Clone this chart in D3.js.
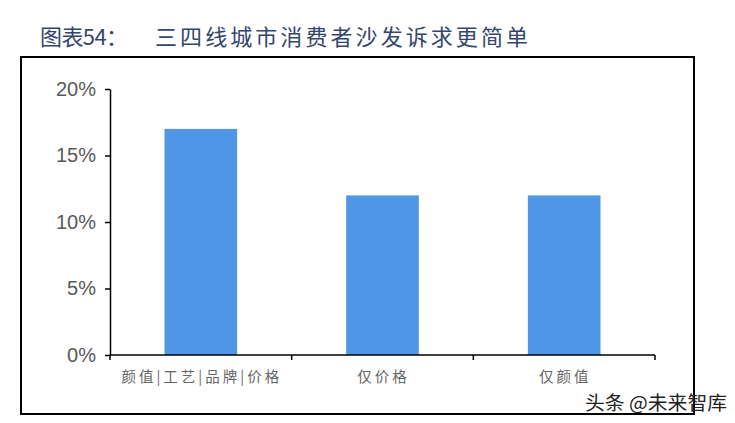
<!DOCTYPE html>
<html><head><meta charset="utf-8">
<script src="https://cdn.jsdelivr.net/npm/d3@7"></script>
<style>body{margin:0;background:#fff}svg{display:block}</style>
</head><body>
<svg id="c" width="735" height="423"></svg>
<script>
const categories = ["颜值|工艺|品牌|价格", "仅价格", "仅颜值"];
const values = [0.17, 0.12, 0.12];
const yTicks = [0, 0.05, 0.10, 0.15, 0.20];
const titleLabel = "图表54：";
const titleText = "三四线城市消费者沙发诉求更简单";
const watermark = "头条 @未来智库";

const svg = d3.select("#c");
svg.append("rect").attr("x",21).attr("y",57).attr("width",673).attr("height",357)
  .attr("fill","none").attr("stroke","#000").attr("stroke-width",2);

svg.append("text").attr("x",40).attr("y",45).text(titleLabel)
  .attr("font-family","'Noto Sans CJK SC'").attr("font-size",22)
  .attr("fill","#34466e").attr("textLength",88).attr("lengthAdjust","spacing");
svg.append("text").attr("x",155).attr("y",45).text(titleText)
  .attr("font-family","'Noto Sans CJK SC'").attr("font-size",22)
  .attr("fill","#34466e").attr("textLength",373).attr("lengthAdjust","spacing");

const x = d3.scaleBand().domain(categories).range([110,655]).paddingInner(0.6).paddingOuter(0.3);
const y = d3.scaleLinear().domain([0,0.2]).range([355,89]);

svg.selectAll("rect.bar").data(values).join("rect").attr("class","bar")
  .attr("x",(d,i)=>x(categories[i])).attr("y",d=>y(d))
  .attr("width",x.bandwidth()).attr("height",d=>y(0)-y(d)).attr("fill","#5096e6");

const ya = svg.append("g").attr("transform","translate(110,0)")
  .call(d3.axisLeft(y).tickValues(yTicks).tickFormat(d3.format(".0%")).tickSize(5).tickSizeOuter(0));
ya.select(".domain").attr("stroke","#000").attr("stroke-width",1.5);
ya.selectAll(".tick line").attr("stroke","#000").attr("stroke-width",1.5);
ya.selectAll(".tick text").attr("x",-14).attr("font-family","'Liberation Sans',Arial")
  .attr("font-size",20).attr("fill","#595959");

const xa = svg.append("g").attr("transform","translate(0,355)");
xa.append("line").attr("x1",110).attr("x2",655).attr("stroke","#000").attr("stroke-width",1.5);
const bounds = [0,1,2,3].map(i => i===3 ? x.range()[1] : x.range()[0] + i*(x.range()[1]-x.range()[0])/3);
xa.selectAll("line.tk").data(bounds).join("line").attr("class","tk")
  .attr("x1",d=>d).attr("x2",d=>d).attr("y1",0).attr("y2",5).attr("stroke","#000").attr("stroke-width",1.5);
xa.selectAll("text").data(categories).join("text")
  .attr("x",d=>x(d)+x.bandwidth()/2+1).attr("y",27).attr("text-anchor","middle")
  .attr("font-family","'Noto Sans CJK SC'").attr("font-size",14.5).attr("fill","#666")
  .style("letter-spacing","3px")
  .text(d=>d);

svg.append("text").attr("x",585).attr("y",410).text(watermark)
  .attr("font-family","'Noto Sans CJK SC'").attr("font-size",19).attr("fill","#222")
  .attr("textLength",142).attr("lengthAdjust","spacingAndGlyphs");
</script>
</body></html>
